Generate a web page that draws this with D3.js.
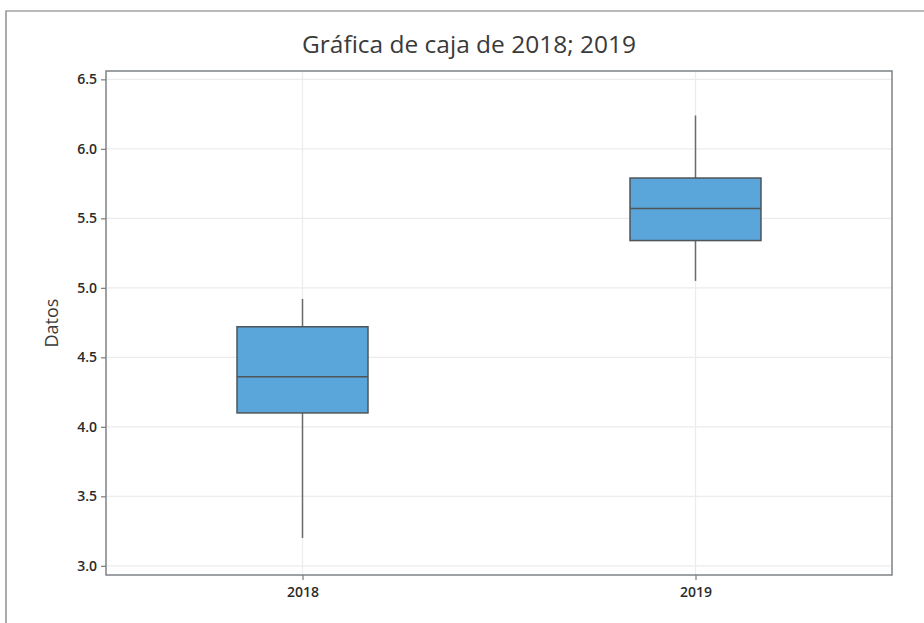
<!DOCTYPE html>
<html>
<head>
<meta charset="utf-8">
<script src="https://cdn.jsdelivr.net/npm/d3@7"></script>
<style>
	body { margin: 0; background: #fff; }
	svg { display: block; font-family: "Open Sans", "Noto Sans", sans-serif; }
</style>
</head>
<body>
<div id="chart"></div>
<script>
// categories and box statistics
var categories = ["2018", "2019"];
var whiskerLow = [3.20, 5.05];
var q1 = [4.10, 5.34];
var median = [4.36, 5.57];
var q3 = [4.72, 5.79];
var whiskerHigh = [4.92, 6.24];
var yTicks = [3.0, 3.5, 4.0, 4.5, 5.0, 5.5, 6.0, 6.5];

var width = 924, height = 623;
var margin = {top: 71, right: 32, bottom: 48, left: 106};
var plotW = width - margin.left - margin.right;
var plotH = height - margin.top - margin.bottom;

var svg = d3.select("#chart").append("svg")
	.attr("width", width)
	.attr("height", height);

// outer frame (only top and left edges are visible)
svg.append("path")
	.attr("d", "M6,623 L6,11 L924,11")
	.attr("fill", "none")
	.attr("stroke", "#767676")
	.attr("stroke-width", 1.2);

svg.append("text")
	.attr("x", 469)
	.attr("y", 53)
	.attr("text-anchor", "middle")
	.attr("fill", "#3a3a3a")
	.attr("font-size", "24px")
	.attr("textLength", 334)
	.attr("lengthAdjust", "spacingAndGlyphs")
	.text("Gráfica de caja de 2018; 2019");

var g = svg.append("g")
	.attr("transform", "translate(" + margin.left + "," + margin.top + ")");

// set the ranges
var x = d3.scalePoint().domain(categories).range([0, plotW]).padding(0.5);
var y = d3.scaleLinear().domain([2.934, 6.56]).range([plotH, 0]);

// gridlines
g.selectAll("line.hgrid")
	.data(yTicks)
	.enter().append("line")
	.attr("class", "hgrid")
	.attr("x1", 0).attr("x2", plotW)
	.attr("y1", function(d) { return y(d); })
	.attr("y2", function(d) { return y(d); })
	.attr("stroke", "#ececec")
	.attr("stroke-width", 1.2);

g.selectAll("line.vgrid")
	.data(categories)
	.enter().append("line")
	.attr("class", "vgrid")
	.attr("x1", function(d) { return x(d); })
	.attr("x2", function(d) { return x(d); })
	.attr("y1", 0).attr("y2", plotH)
	.attr("stroke", "#ececec")
	.attr("stroke-width", 1.2);

// boxes
var boxW = plotW / 6;
var box = g.selectAll("g.box")
	.data(categories)
	.enter().append("g")
	.attr("class", "box");

box.append("line")
	.attr("x1", function(d) { return x(d); })
	.attr("x2", function(d) { return x(d); })
	.attr("y1", function(d, i) { return y(whiskerHigh[i]); })
	.attr("y2", function(d, i) { return y(whiskerLow[i]); })
	.attr("stroke", "#6b6b6b")
	.attr("stroke-width", 1.5);

box.append("rect")
	.attr("x", function(d) { return x(d) - boxW / 2; })
	.attr("width", boxW)
	.attr("y", function(d, i) { return y(q3[i]); })
	.attr("height", function(d, i) { return y(q1[i]) - y(q3[i]); })
	.attr("fill", "#5aa5da")
	.attr("stroke", "#4f5558")
	.attr("stroke-width", 1.5);

box.append("line")
	.attr("x1", function(d) { return x(d) - boxW / 2; })
	.attr("x2", function(d) { return x(d) + boxW / 2; })
	.attr("y1", function(d, i) { return y(median[i]); })
	.attr("y2", function(d, i) { return y(median[i]); })
	.attr("stroke", "#4f5558")
	.attr("stroke-width", 1.5);

// axes
var yAxis = g.append("g")
	.call(d3.axisLeft(y).tickValues(yTicks).tickFormat(d3.format(".1f")).tickSize(5).tickPadding(4));
var xAxis = g.append("g")
	.attr("transform", "translate(0," + plotH + ")")
	.call(d3.axisBottom(x).tickSize(5).tickPadding(7));

[yAxis, xAxis].forEach(function(a) {
	a.select(".domain").remove();
	a.selectAll("line").attr("stroke", "#7a7a7a").attr("stroke-width", 1.2);
	a.selectAll("text")
		.attr("fill", "#2b2b2b")
		.attr("font-size", "14px")
		.attr("font-weight", "600")
		.style("font-family", "'Open Sans', sans-serif");
});

// plot border
g.append("rect")
	.attr("width", plotW)
	.attr("height", plotH)
	.attr("fill", "none")
	.attr("stroke", "#7f8386")
	.attr("stroke-width", 1.5);

svg.append("text")
	.attr("transform", "translate(58," + (margin.top + plotH / 2) + ") rotate(-90)")
	.attr("text-anchor", "middle")
	.attr("fill", "#3a3a3a")
	.attr("font-size", "18px")
	.text("Datos");
</script>
</body>
</html>
